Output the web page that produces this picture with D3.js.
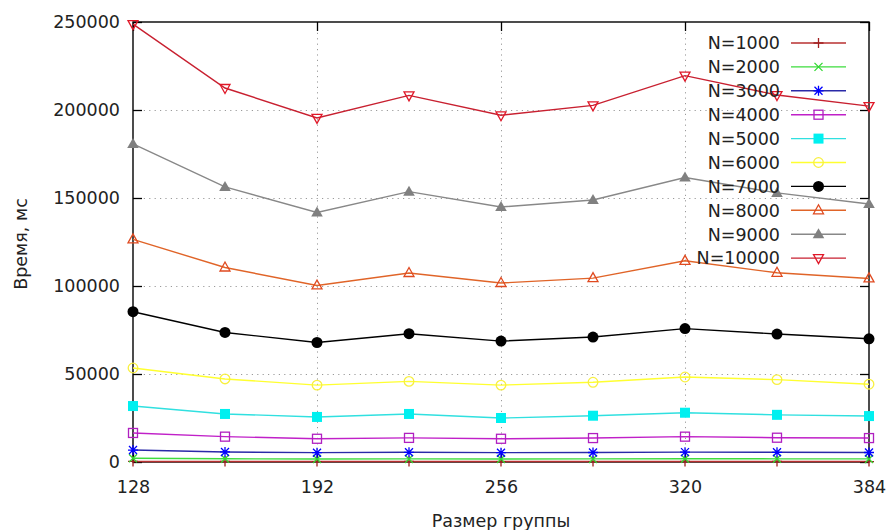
<!DOCTYPE html>
<html>
<head>
<meta charset="utf-8">
<script src="https://cdn.jsdelivr.net/npm/d3@7"></script>
<style>
  html, body { margin: 0; padding: 0; background: #fff; }
  svg { display: block; font-family: "DejaVu Sans", sans-serif; }
</style>
</head>
<body>
<svg id="chart" width="889" height="530"></svg>
<script>
// Group size on the x axis
const groupSizes = [128, 160, 192, 224, 256, 288, 320, 352, 384];
const xTicks = [128, 192, 256, 320, 384];
const yTicks = [0, 50000, 100000, 150000, 200000, 250000];

// Run time (ms) for each problem size N
const seriesNames = ["N=1000", "N=2000", "N=3000", "N=4000", "N=5000",
                     "N=6000", "N=7000", "N=8000", "N=9000", "N=10000"];
const n1000  = [320, 280, 260, 270, 260, 265, 280, 270, 265];
const n2000  = [2100, 1850, 1700, 1750, 1700, 1750, 1850, 1800, 1750];
const n3000  = [6800, 5700, 5300, 5500, 5300, 5400, 5600, 5500, 5400];
const n4000  = [16500, 14400, 13200, 13700, 13200, 13600, 14400, 13800, 13600];
const n5000  = [31800, 27300, 25600, 27300, 25000, 26300, 28000, 26800, 26100];
const n6000  = [53400, 47200, 43700, 45800, 43700, 45300, 48300, 46800, 44200];
const n7000  = [85400, 73600, 67900, 72900, 68700, 71000, 75800, 72700, 70000];
const n8000  = [126500, 110500, 100300, 107400, 101700, 104500, 114300, 107500, 104300];
const n9000  = [180700, 156300, 141800, 153600, 144900, 148900, 161600, 152900, 146600];
const n10000 = [248800, 212500, 195500, 208300, 197000, 202600, 219500, 208500, 202200];
const seriesValues = [n1000, n2000, n3000, n4000, n5000, n6000, n7000, n8000, n9000, n10000];

const lineColors   = ["#b83030", "#3ddc3d", "#2a2aa8", "#c020c8", "#30e0e0",
                      "#ffff30", "#000000", "#e06428", "#888888", "#c82030"];
const markerColors = ["#a02020", "#30d830", "#0000ff", "#b020c0", "#00f0f0",
                      "#f8f040", "#000000", "#e04a20", "#808080", "#e01828"];
const markerTypes  = ["plus", "cross", "star", "square", "squareFill",
                      "circle", "circleFill", "triUp", "triUpFill", "triDown"];

const fontSize = 17.5;
const svg = d3.select("#chart");
const plotLeft = 133, plotRight = 869, plotTop = 22, plotBottom = 462;

const x = d3.scaleLinear().domain([128, 384]).range([plotLeft, plotRight]);
const y = d3.scaleLinear().domain([0, 250000]).range([plotBottom, plotTop]);

// Dotted grid
const grid = svg.append("g").attr("stroke", "#9a9a9a").attr("stroke-width", 1)
  .attr("stroke-dasharray", "1.2,4.2");
yTicks.filter(v => v > 0 && v < 250000).forEach(v => {
  grid.append("line").attr("x1", plotLeft).attr("x2", plotRight)
    .attr("y1", Math.round(y(v)) + 0.5).attr("y2", Math.round(y(v)) + 0.5);
});
xTicks.filter(v => v > 128 && v < 384).forEach(v => {
  grid.append("line").attr("y1", plotTop).attr("y2", plotBottom)
    .attr("x1", Math.round(x(v)) + 0.5).attr("x2", Math.round(x(v)) + 0.5);
});

// Axes: labels with inward ticks, mirrored on opposite sides
const tickLen = 9;
const yAxis = d3.axisLeft(y).tickValues(yTicks).tickFormat(d3.format("d"))
  .tickSizeInner(-tickLen).tickSizeOuter(0).tickPadding(13);
const xAxis = d3.axisBottom(x).tickValues(xTicks).tickFormat(d3.format("d"))
  .tickSizeInner(-tickLen).tickSizeOuter(0).tickPadding(19);
const yAxisR = d3.axisRight(y).tickValues(yTicks).tickFormat("")
  .tickSizeInner(-tickLen).tickSizeOuter(0);
const xAxisT = d3.axisTop(x).tickValues(xTicks).tickFormat("")
  .tickSizeInner(-tickLen).tickSizeOuter(0);

function styleAxis(g) {
  g.select(".domain").remove();
  g.selectAll(".tick line").attr("stroke", "#000").attr("stroke-width", 1.3);
  g.selectAll(".tick text").attr("fill", "#222").attr("font-size", fontSize)
    .attr("font-family", "DejaVu Sans, sans-serif");
}
svg.append("g").attr("transform", `translate(${plotLeft},0)`).call(yAxis).call(styleAxis);
svg.append("g").attr("transform", `translate(0,${plotBottom})`).call(xAxis).call(styleAxis);
svg.append("g").attr("transform", `translate(${plotRight},0)`).call(yAxisR).call(styleAxis);
svg.append("g").attr("transform", `translate(0,${plotTop})`).call(xAxisT).call(styleAxis);

// Border
svg.append("rect").attr("x", plotLeft).attr("y", plotTop)
  .attr("width", plotRight - plotLeft).attr("height", plotBottom - plotTop)
  .attr("fill", "none").attr("stroke", "#000").attr("stroke-width", 1.4);

// Axis titles
svg.append("text").attr("x", (plotLeft + plotRight) / 2).attr("y", 527)
  .attr("text-anchor", "middle").attr("font-size", fontSize).attr("fill", "#222")
  .text("Размер группы");
svg.append("text").attr("transform", `translate(27,${(plotTop + plotBottom) / 2 + 2}) rotate(-90)`)
  .attr("text-anchor", "middle").attr("font-size", fontSize).attr("fill", "#222")
  .text("Время, мс");

// Point symbols
function drawMarker(g, type, cx, cy, color) {
  const s = 5;
  const m = g.append("g").attr("transform", `translate(${cx},${cy})`)
    .attr("stroke", color).attr("stroke-width", 1.3);
  switch (type) {
    case "plus":
      m.append("path").attr("d", `M${-s},0H${s}M0,${-s}V${s}`);
      break;
    case "cross":
      m.append("path").attr("d", "M-4,-4L4,4M-4,4L4,-4");
      break;
    case "star":
      m.append("path").attr("d", `M${-s},0H${s}M0,${-s}V${s}M-4,-4L4,4M-4,4L4,-4`);
      break;
    case "square":
      m.append("rect").attr("x", -4.5).attr("y", -4.5).attr("width", 9).attr("height", 9)
        .attr("fill", "none");
      break;
    case "squareFill":
      m.append("rect").attr("x", -5).attr("y", -5).attr("width", 10).attr("height", 10)
        .attr("fill", color).attr("stroke", "none");
      break;
    case "circle":
      m.append("circle").attr("r", 4.8).attr("fill", "none");
      break;
    case "circleFill":
      m.append("circle").attr("r", 5.5).attr("fill", color).attr("stroke", "none");
      break;
    case "triUp":
      m.append("path").attr("d", "M0,-5.5L5,3.5L-5,3.5Z").attr("fill", "none");
      break;
    case "triUpFill":
      m.append("path").attr("d", "M0,-6L5.8,4L-5.8,4Z").attr("fill", color).attr("stroke", "none");
      break;
    case "triDown":
      m.append("path").attr("d", "M0,5.5L5,-3.5L-5,-3.5Z").attr("fill", "none");
      break;
  }
}

// Series lines and points
const line = d3.line().x((d, i) => x(groupSizes[i])).y(d => y(d));
const plot = svg.append("g");
seriesValues.forEach((vals, k) => {
  plot.append("path").datum(vals).attr("d", line)
    .attr("fill", "none").attr("stroke", lineColors[k]).attr("stroke-width", 1.4);
  vals.forEach((v, i) => drawMarker(plot, markerTypes[k], x(groupSizes[i]), y(v), markerColors[k]));
});

// Legend
const legend = svg.append("g");
seriesNames.forEach((name, k) => {
  const ly = 43 + k * 23.9;
  legend.append("text").attr("x", 780).attr("y", ly).attr("dy", "0.36em")
    .attr("text-anchor", "end").attr("font-size", fontSize).attr("fill", "#222").text(name);
  legend.append("line").attr("x1", 791).attr("x2", 846).attr("y1", ly).attr("y2", ly)
    .attr("stroke", lineColors[k]).attr("stroke-width", 1.4);
  drawMarker(legend, markerTypes[k], 818.5, ly, markerColors[k]);
});
</script>
</body>
</html>
